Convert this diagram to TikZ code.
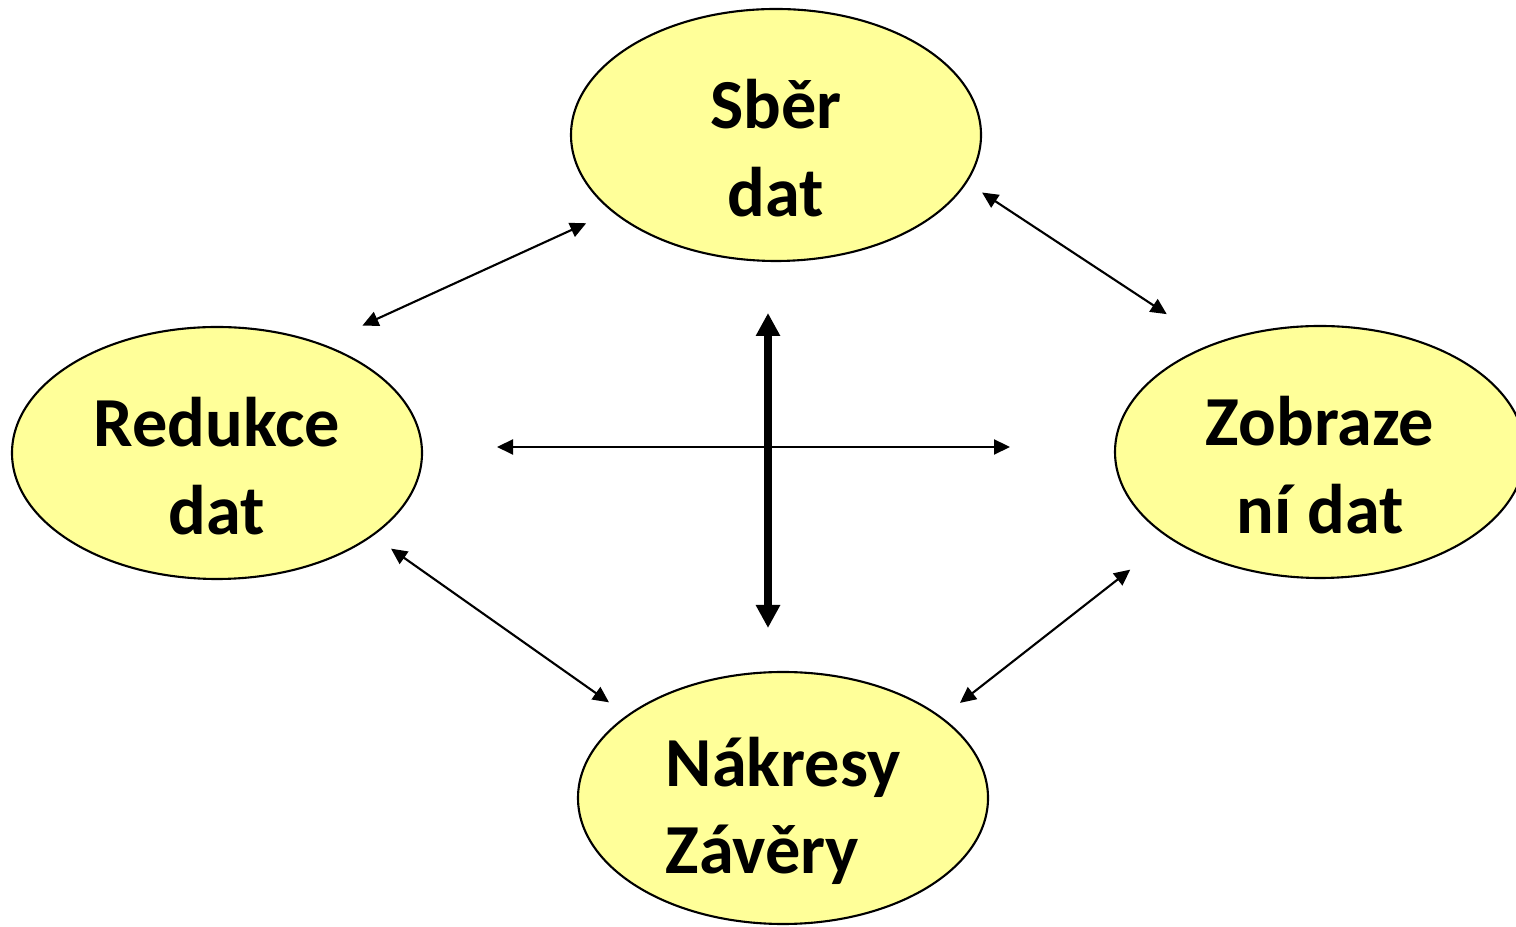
\documentclass[tikz,border=0pt]{standalone}
\usepackage{fontspec}
\setmainfont{Carlito}
\usetikzlibrary{shapes.geometric,arrows.meta}
\definecolor{bublina}{RGB}{255,255,153}
\newcommand{\vys}{\rule{0pt}{0.75cm}}
\begin{document}
\begin{tikzpicture}[
    faze/.style={ellipse,draw,line width=0.6pt,fill=bublina,inner sep=0pt,
      minimum width=4.1cm,minimum height=2.52cm,
      font=\fontsize{20}{25}\selectfont\bfseries,align=center},
    vazba/.style={line width=0.6pt,{Triangle[length=0.16cm,width=0.15cm]}-{Triangle[length=0.16cm,width=0.15cm]}},
    osa/.style={line width=2.1pt,{Triangle[length=0.23cm,width=0.23cm]}-{Triangle[length=0.23cm,width=0.23cm]}}
  ]
  \useasboundingbox (0,0) rectangle (15.16,9.27);
  \node[faze] (sber) at (7.76,7.92) {\vys Sběr\\dat};
  \node[faze] (redukce) at (2.17,4.74) {\vys Redukce\\dat};
  \node[faze] (zobrazeni) at (13.20,4.75) {\vys Zobraze\\ní dat};
  \node[faze,align=left] (nakresy) at (7.83,1.29) {\vys Nákresy\\Závěry};
  % volne konce os
  \coordinate (vlevo) at (4.97,4.80);
  \coordinate (vpravo) at (10.10,4.80);
  \coordinate (nahore) at (7.68,6.14);
  \coordinate (dole) at (7.68,2.99);
  \draw[vazba,shorten <=0.44cm,shorten >=0.28cm] (redukce.46) -- (sber.205);
  \draw[vazba,shorten <=0.18cm,shorten >=0.54cm] (sber.346) -- (zobrazeni.135);
  \draw[vazba,shorten <=0.22cm,shorten >=0.22cm] (redukce.332) -- (nakresy.152);
  \draw[vazba,shorten <=0.50cm,shorten >=0.23cm] (zobrazeni.210) -- (nakresy.27);
  \draw[vazba] (vlevo) -- (vpravo);
  \draw[osa] (nahore) -- (dole);
\end{tikzpicture}
\end{document}
